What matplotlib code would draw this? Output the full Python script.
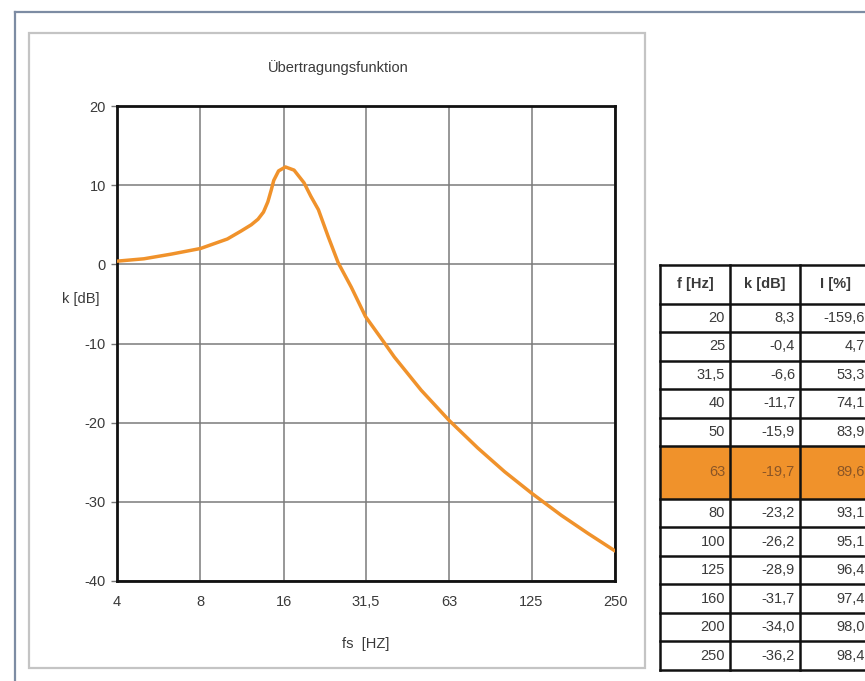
import matplotlib.pyplot as plt
from matplotlib.patches import Rectangle
from matplotlib.lines import Line2D

plt.rcParams['font.family'] = ['Liberation Sans', 'DejaVu Sans']
plt.rcParams['axes.unicode_minus'] = False

# Kurve (f in Hz, k in dB)
kurve_f = [4, 5, 6.3, 8, 10, 11.2, 12.2, 12.9, 13.5, 14.0, 14.4, 14.7, 15.3, 16.2, 17.4, 18.9, 20,
           21.3, 23.1, 25.1, 28.0, 31.5, 36.8, 40, 50, 63, 80, 100, 125, 160, 200, 250]
kurve_k = [0.4, 0.7, 1.3, 2.0, 3.2, 4.2, 5.0, 5.7, 6.6, 7.9, 9.4, 10.6, 11.8, 12.3, 11.9, 10.3, 8.6,
           6.9, 3.5, 0.2, -2.9, -6.6, -9.9, -11.7, -15.9, -19.7, -23.2, -26.2, -28.9, -31.7, -34.0, -36.2]

achse_f = [4, 8, 16, 31.5, 63, 125, 250]
achse_lab = ['4', '8', '16', '31,5', '63', '125', '250']
y_ticks = [-40, -30, -20, -10, 0, 10, 20]

# Tabelle
tab_f = [20, 25, 31.5, 40, 50, 63, 80, 100, 125, 160, 200, 250]
tab_k = [8.3, -0.4, -6.6, -11.7, -15.9, -19.7, -23.2, -26.2, -28.9, -31.7, -34.0, -36.2]
tab_i = [-159.6, 4.7, 53.3, 74.1, 83.9, 89.6, 93.1, 95.1, 96.4, 97.4, 98.0, 98.4]
tab_kopf = ['f [Hz]', 'k [dB]', 'I [%]']
markiert = 63

orange = '#f0922b'
txt = '#3a3a3a'
fs = 10.5

W, H = 865, 681
fig = plt.figure(figsize=(W / 100, H / 100), dpi=100)

def fx(px):
    return px / W

def fy(py):
    return 1 - py / H

# aeusserer Rahmen (blaugrau)
fig.add_artist(Line2D([fx(15), 1.0], [fy(12), fy(12)], color='#7d8ca3', lw=1.6))
fig.add_artist(Line2D([fx(15), fx(15)], [fy(12), 0.0], color='#7d8ca3', lw=1.6))

# Diagrammkasten
fig.add_artist(Rectangle((fx(29), fy(668)), fx(645) - fx(29), fy(33) - fy(668),
                         fill=False, edgecolor='#c4c4c4', lw=1.6))

ax = fig.add_axes([fx(117), fy(581), fx(615) - fx(117), fy(106) - fy(581)])
ax.plot(kurve_f, kurve_k, color=orange, lw=2.5, solid_capstyle='round',
        solid_joinstyle='round', zorder=3)
ax.set_xscale('log', base=2)
ax.set_xlim(4, 250)
ax.set_ylim(-40, 20)
ax.set_xticks(achse_f)
ax.set_xticklabels(achse_lab)
ax.minorticks_off()
ax.set_yticks(y_ticks)
ax.grid(True, color='#7a7a7a', lw=1.1)
for s in ax.spines.values():
    s.set_linewidth(2)
    s.set_color('#111111')
ax.tick_params(axis='y', length=4, width=1, color='#777777', labelsize=fs, labelcolor=txt, pad=4)
ax.tick_params(axis='x', length=0, labelsize=fs, labelcolor=txt, pad=10)

fig.text(fx(338), fy(68), 'Übertragungsfunktion', ha='center', va='center', fontsize=fs, color=txt)
fig.text(fx(81), fy(299), 'k [dB]', ha='center', va='center', fontsize=fs, color=txt)
fig.text(fx(366), fy(644), 'fs  [HZ]', ha='center', va='center', fontsize=fs, color=txt)

# Tabelle als eigene Achse
tx = fig.add_axes([fx(660), fy(670), fx(870) - fx(660), fy(265) - fy(670)])
kopf_h, zeile_h, mark_h = 1.35, 1.0, 1.85
hoehen = [mark_h if f == markiert else zeile_h for f in tab_f]
gesamt = kopf_h + sum(hoehen)
tx.set_xlim(0, 3)
tx.set_ylim(gesamt, 0)
tx.axis('off')

def komma(v):
    s = str(int(v)) if float(v).is_integer() else '%.1f' % v
    return s.replace('.', ',')

for j, h in enumerate(tab_kopf):
    tx.text(j + 0.5, kopf_h / 2, h, ha='center', va='center', fontsize=fs,
            fontweight='bold', color=txt)

y = kopf_h
grenzen = [0, kopf_h]
for f, k, i, h in zip(tab_f, tab_k, tab_i, hoehen):
    farbe = txt
    if f == markiert:
        tx.add_patch(Rectangle((0, y), 3, h, facecolor=orange, edgecolor='none'))
        farbe = '#8a5526'
    werte = [komma(f), ('%.1f' % k).replace('.', ','), ('%.1f' % i).replace('.', ',')]
    for j, w in enumerate(werte):
        tx.text(j + 0.93, y + h / 2, w, ha='right', va='center', fontsize=fs, color=farbe)
    y += h
    grenzen.append(y)

for g in grenzen:
    tx.plot([0, 3], [g, g], color='#111111', lw=1.8, clip_on=False)
for c in [0, 1, 2, 3]:
    tx.plot([c, c], [0, gesamt], color='#111111', lw=1.8, clip_on=False)

fig.savefig('out.png', dpi=100)
